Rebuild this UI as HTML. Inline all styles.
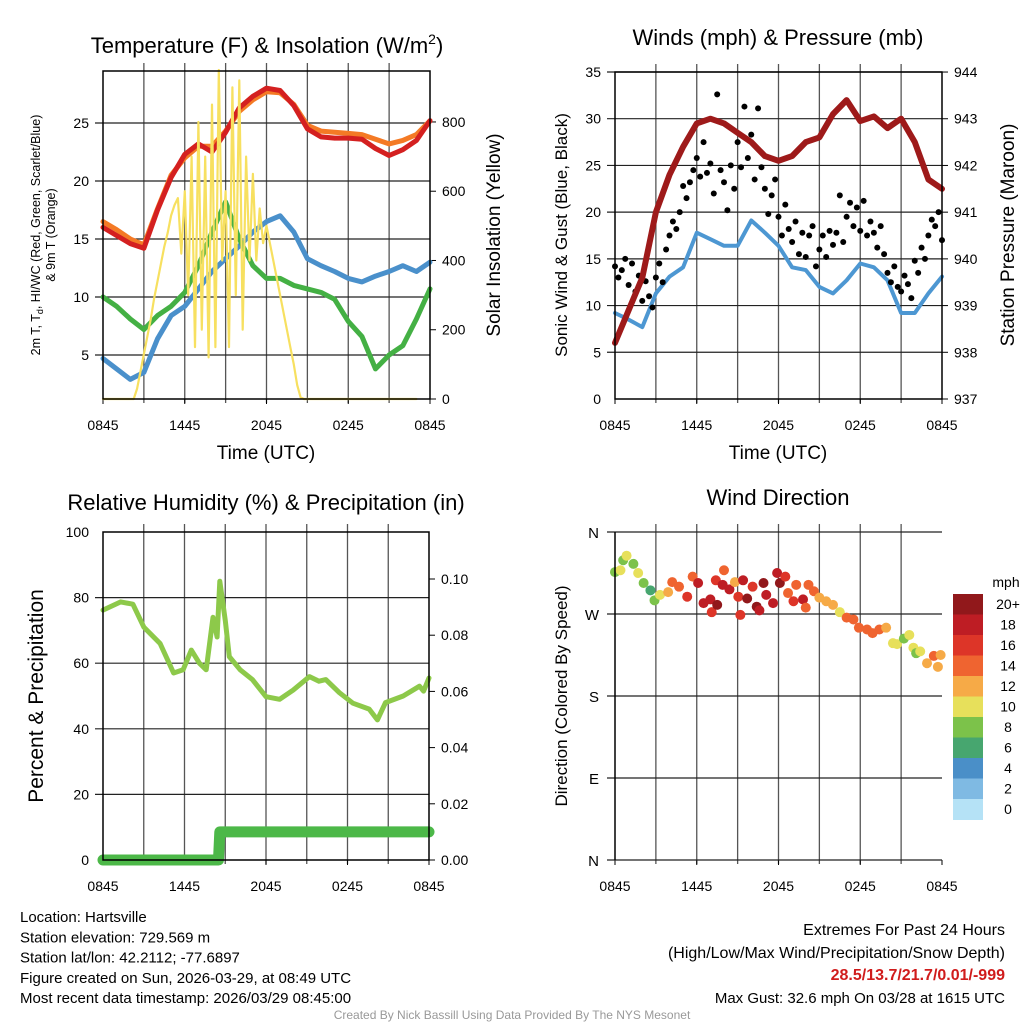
<!DOCTYPE html>
<html><head><meta charset="utf-8"><style>
html,body{margin:0;padding:0;background:#fff;}
svg{display:block;font-family:"Liberation Sans",Arial,sans-serif;}
</style></head><body>
<svg id="root" width="1024" height="1024" viewBox="0 0 1024 1024"></svg>
<script>
// ---------- DATA ----------
const xTickLabels = ["0845","1445","2045","0245","0845"];
const xTickHours = [0,6,12,18,24];
const hours = [0,1,2,3,4,5,6,7,8,9,10,11,12,13,14,15,16,17,18,19,20,21,22,23,24];
const temp2m = [16.0,15.3,14.6,14.2,17.5,20.3,22.3,23.2,22.5,24.2,26.3,27.3,28.0,27.8,26.5,24.5,23.8,23.7,23.7,23.6,22.8,22.2,22.7,23.5,25.2];
const temp9m = [16.5,15.8,15.0,14.5,17.6,20.5,22.0,23.0,23.0,24.3,26.0,27.0,27.7,27.6,26.6,24.8,24.3,24.2,24.1,24.0,23.6,23.2,23.5,24.0,25.2];
const dewpt = [4.7,3.8,2.9,3.5,6.4,8.4,9.2,10.7,12.2,13.3,14.4,15.6,16.5,17.0,15.6,13.3,12.7,12.2,11.6,11.3,11.8,12.2,12.7,12.2,13.0];
const hiwc = [10.0,9.2,8.1,7.2,8.4,9.2,10.4,12.7,15.6,18.2,15.0,12.7,11.6,11.6,11.0,10.7,10.4,9.8,7.9,6.6,3.8,5.0,5.8,8.1,10.7];
const solar = [0,0,0,0, 0,0,0,0, 0,0,30,80, 130,180,230,290, 340,390,440,480, 530,560,580,420, 600,300,700,150, 800,200,700,120,
 850,150,950,400, 600,150,900,300, 920,200,700,400, 650,400,550,450, 500,450,400,350, 300,250,200,150, 100,40,5,0,
 0,0,0,0, 0,0,0,0, 0,0,0,0, 0,0,0,0, 0,0,0,0, 0,0,0,0, 0,0,0,0, 0,0,0,0, 0];
const tempTicks = [5,10,15,20,25];
const solarTicks = [0,200,400,600,800];

const windSpeed = [9.2,8.5,7.7,11.3,13.1,14.1,17.8,17.1,16.4,16.4,19.1,17.8,16.4,14.1,13.8,12.0,11.3,12.7,14.5,14.1,12.7,9.2,9.2,11.3,13.1];
const pressure = [938.2,938.9,939.6,941.0,941.8,942.4,942.9,943.0,942.9,942.7,942.5,942.2,942.1,942.2,942.5,942.6,943.1,943.4,942.95,943.05,942.8,943.0,942.5,941.7,941.5];
const gusts = [14.2,13.0,13.8,15.0, 12.2,14.5,11.5,13.2, 10.5,12.6,11.0,9.8, 13.0,14.5,12.5,16.0, 17.5,19.0,18.2,20.0,
 22.8,21.5,23.2,24.5, 25.8,23.8,27.5,24.2, 25.2,22.0,32.6,24.5, 23.2,20.2,25.0,22.5, 27.5,24.8,31.3,25.8,
 28.3,23.5,31.1,24.8, 22.5,19.8,21.8,23.5, 19.5,17.5,20.8,18.2, 16.8,19.0,15.5,17.8, 15.2,17.5,18.5,14.2,
 16.0,17.5,15.2,18.0, 16.5,17.8,21.8,16.8, 19.5,21.0,18.5,20.5, 18.0,21.2,17.5,19.0, 17.8,16.2,18.5,15.5,
 13.5,12.5,14.2,12.0, 11.5,13.2,12.3,10.8, 14.8,13.5,16.2,15.0, 17.5,19.2,18.5,20.0, 17.0];
const windTicks = [0,5,10,15,20,25,30,35];
const presTicks = [937,938,939,940,941,942,943,944];

const rhHours = [0,1.3,2.2,3,4.2,5.2,5.9,6.5,7.1,7.6,8.1,8.4,8.6,9,9.3,10.1,11,12,13,14,15.2,15.9,16.4,17.4,18.4,19.6,20.2,20.8,22.1,23.3,23.6,24];
const rhValues = [76.2,78.7,78,71,66,57,58,64,60,58,74,68,85,73,62,58,55,49.8,49,51.8,55.9,54.5,55,51,47.8,46,42.7,48,50,53,51.5,55.5];
const precipHours = [0,8.5,8.6,24];
const precipValues = [0,0,0.01,0.01];
const rhTicks = [0,20,40,60,80,100];
const precipTicks = [0,0.02,0.04,0.06,0.08,0.10];

const dirHours = [0,0.4,0.6,0.85,1.35,1.7,2.1,2.6,2.9,3.3,3.9,4.2,4.7,5.3,5.7,6.1,6.5,7,7.1,7.4,7.5,7.9,8,8.4,8.8,9.05,9.2,9.4,9.7,10.1,10.4,10.6,10.9,11.1,11.6,11.9,12.1,12.5,12.7,13.1,13.3,13.8,14,14.2,14.6,15,15.5,16,16.5,17,17.5,17.9,18.5,18.9,19.4,19.9,20.4,20.7,21.2,21.6,21.9,22.1,22.4,22.9,23.4,23.7,23.9];
const dirValues = [316,318,329,334,325,315,304,296,285,291,294,305,300,289,311,304,282,286,272,307,280,302,318,297,305,289,269,307,287,300,278,274,304,291,282,315,304,311,293,284,302,286,277,302,295,288,284,280,272,266,264,255,253,249,253,255,238,237,243,247,233,227,229,216,224,212,225];
const dirSpeeds = [8,10,8,10,8,10,8,6,8,10,12,14,14,16,14,18,18,18,16,16,20,18,14,18,12,16,16,18,20,16,20,18,20,18,18,18,20,16,14,16,14,18,14,14,14,12,12,12,10,14,14,14,14,14,14,12,10,10,8,10,10,8,10,12,14,12,12];
const dirTickLabels = ["N","E","S","W","N"];
const dirTickValues = [0,90,180,270,360];
const speedLabels = ["0","2","4","6","8","10","12","14","16","18","20+"];
const speedColors = ["#b5e2f6","#7fbae3","#4a8fc8","#47a66f","#7cc24a","#e7e05b","#f6aa47","#ef6430","#dd3528","#be1d24","#91181b"];

// ---------- HELPERS ----------
const NS = "http://www.w3.org/2000/svg";
const root = document.getElementById('root');
function mk(tag, attrs, parent){ const e=document.createElementNS(NS,tag); for(const k in attrs) e.setAttribute(k,attrs[k]); (parent||root).appendChild(e); return e; }
function txt(s, x, y, size, anchor, extra){ const t=mk('text',Object.assign({x:x,y:y,'font-size':size,'text-anchor':anchor||'middle',fill:'#000'},extra||{})); t.textContent=s; return t; }

const P1={x0:103,x1:430,y0:71,y1:399};
const P2={x0:615,x1:942,y0:72,y1:399};
const P3={x0:103,x1:429,y0:532,y1:860};
const P4={x0:615,x1:942,y0:532,y1:860};
function xs(P,h){ return P.x0 + h*(P.x1-P.x0)/24; }
const y1L = v => 123 + (25-v)*11.6;
const y1R = w => 399 - w*0.3463;
const y2L = v => 399 - v*9.343;
const y2R = p => 399 - (p-937)*46.71;
const y3L = v => 860 - v*3.28;
const y3R = p => 860 - p*2810;
const y4 = d => 860 - d*0.9111;

function frame(P, name){
  const g = mk('g',{});
  
  
  for(let i=1;i<8;i++){ const x=xs(P,i*3); mk('line',{x1:x,x2:x,y1:P.y0-8,y2:P.y1+4,stroke:'#555','stroke-width':1.3},g); }
  xTickHours.forEach((h,i)=>{ const x=xs(P,h);
    mk('line',{x1:x,x2:x,y1:P.y1,y2:P.y1+5,stroke:'#000','stroke-width':1},g);
    const t=txt(xTickLabels[i],x,P.y1+31,14);
    
    
  });
  return g;
}
function border(P,name){
  const r=mk('rect',{x:P.x0,y:P.y0,width:P.x1-P.x0,height:P.y1-P.y0,fill:'none',stroke:'#000','stroke-width':1.5});
  
  
}
function hgrid(P,ys,name){
  ys.forEach(y=>{ const l=mk('line',{x1:P.x0-8,x2:P.x1,y1:y,y2:y,stroke:'#222','stroke-width':1.2});
    
     });
}
function leftLabels(P,vals,fy,fmt,name){
  vals.forEach(v=>{ const t=txt(fmt(v),P.x0-14,fy(v)+5,14,'end');
    
     });
}
function rightLabels(P,vals,fy,fmt,name){
  vals.forEach(v=>{ const y=fy(v);
    mk('line',{x1:P.x1,x2:P.x1+6,y1:y,y2:y,stroke:'#000'});
    const t=txt(fmt(v),P.x1+12,y+5,14,'start');
    
     });
}
function path(xsArr, ysArr, P, fy, color, w, name){
  let d=''; xsArr.forEach((h,i)=>{ d+=(i?'L':'M')+xs(P,h).toFixed(1)+','+fy(ysArr[i]).toFixed(1); });
  const p=mk('path',{d:d,fill:'none',stroke:color,'stroke-width':w,'stroke-linejoin':'round','stroke-linecap':'round'});
  
  
  return p;
}

// ---------- PANEL 1 ----------
frame(P1,'temp');
hgrid(P1,tempTicks.map(y1L),'temp');
leftLabels(P1,tempTicks,y1L,v=>String(v),'temp');
rightLabels(P1,solarTicks,y1R,v=>String(v),'solar');
path(hours,dewpt,P1,y1L,'#4a90cb',5,'dewpoint-line');
path(hours,hiwc,P1,y1L,'#44b044',5,'heat-index-windchill-line');
path(hours,temp9m,P1,y1L,'#f47a25',5,'temp-9m-line');
path(hours,temp2m,P1,y1L,'#d42020',5,'temp-2m-line');
const solarHours = solar.map((v,i)=>i*0.25);
path(solarHours,solar,P1,y1R,'#f7e060',2.2,'solar-insolation-line');
border(P1,'temp');
let t;
t=mk('text',{x:267,y:53,'font-size':22,'text-anchor':'middle',fill:'#000'});


const tA=mk('tspan',{},t); tA.textContent='Temperature (F) & Insolation (W/m';
const tB=mk('tspan',{'font-size':14,dy:-9},t); tB.textContent='2';
const tC=mk('tspan',{dy:9},t); tC.textContent=')';
t=txt('Time (UTC)',266,459,19);  
t=mk('text',{'font-size':12.5,'text-anchor':'middle',fill:'#000',transform:'translate(40,235) rotate(-90)'});


const ts=mk('tspan',{},t); ts.textContent='2m T, T';
const sub=mk('tspan',{'font-size':9,dy:3},t); sub.textContent='d';
const ts2=mk('tspan',{dy:-3},t); ts2.textContent=', HI/WC (Red, Green, Scarlet/Blue)';
t=txt('& 9m T (Orange)',0,0,12.5,'middle',{transform:'translate(55,235) rotate(-90)'});  
t=txt('Solar Insolation (Yellow)',0,0,19,'middle',{transform:'translate(500,235) rotate(-90)'});  

// ---------- PANEL 2 ----------
frame(P2,'wind');
hgrid(P2,windTicks.slice(1).map(y2L),'wind');
leftLabels(P2,windTicks,y2L,v=>String(v),'wind');
rightLabels(P2,presTicks,y2R,v=>String(v),'pressure');
path(hours,windSpeed,P2,y2L,'#4d97d2',4,'sonic-wind-line');
gusts.forEach((g,i)=>{ const c=mk('circle',{cx:xs(P2,i*0.25),cy:y2L(g),r:3,fill:'#000'});
  
   });
path(hours,pressure,P2,y2R,'#9e1a1a',6,'pressure-line');
border(P2,'wind');
t=txt('Winds (mph) & Pressure (mb)',778,45,22);  
t=txt('Time (UTC)',778,459,19);  
t=txt('Sonic Wind & Gust (Blue, Black)',0,0,17,'middle',{transform:'translate(567,235) rotate(-90)'});  
t=txt('Station Pressure (Maroon)',0,0,19,'middle',{transform:'translate(1014,235) rotate(-90)'});  

// ---------- PANEL 3 ----------
frame(P3,'rh');
hgrid(P3,rhTicks.slice(1,5).map(y3L),'rh');
leftLabels(P3,rhTicks,y3L,v=>String(v),'rh');
rightLabels(P3,precipTicks,y3R,v=>v.toFixed(2),'precip');
path(rhHours,rhValues,P3,y3L,'#8dc94a',5,'relative-humidity-line');
path(precipHours,precipValues,P3,y3R,'#4cb848',11,'precipitation-line');
border(P3,'rh');
t=txt('Relative Humidity (%) & Precipitation (in)',266,510,22);  
t=txt('Percent & Precipitation',0,0,21,'middle',{transform:'translate(43,696) rotate(-90)'});  

// ---------- PANEL 4 ----------
frame(P4,'dir');
hgrid(P4,dirTickValues.map(y4),'dir');
dirTickValues.forEach((v,i)=>{ const tt=txt(dirTickLabels[i],P4.x0-16,y4(v)+6,15,'end');
  
   });
dirHours.forEach((h,i)=>{ const idx=Math.min(10,Math.floor(dirSpeeds[i]/2));
  const c=mk('circle',{cx:xs(P4,h),cy:y4(dirValues[i]),r:5,fill:speedColors[idx]});
  
   });
mk('line',{x1:P4.x0,x2:P4.x0,y1:P4.y0,y2:P4.y1,stroke:'#000','stroke-width':1.5});
t=txt('Wind Direction',778,505,22);  
t=txt('Direction (Colored By Speed)',0,0,17,'middle',{transform:'translate(567,696) rotate(-90)'});  
// colorbar
const cbTop=594, cbH=20.5;
for(let k=0;k<11;k++){ const idx=10-k;
  const r=mk('rect',{x:953,y:cbTop+k*cbH,width:30,height:cbH+0.5,fill:speedColors[idx]});
  
  
  const l=txt(speedLabels[idx],1008,cbTop+k*cbH+15,14);
  
   }
t=txt('mph',1006,587,14);  

// ---------- FOOTER TEXT ----------
const info=["Location: Hartsville","Station elevation: 729.569 m","Station lat/lon: 42.2112; -77.6897","Figure created on Sun, 2026-03-29, at 08:49 UTC","Most recent data timestamp: 2026/03/29 08:45:00"];
info.forEach((s,i)=>{ const tt=txt(s,20,922+i*20.3,15,'start');
  
   });
t=txt('Extremes For Past 24 Hours',1005,935,16,'end');  
t=txt('(High/Low/Max Wind/Precipitation/Snow Depth)',1005,958,16,'end');  
t=txt('28.5/13.7/21.7/0.01/-999',1005,980,16,'end',{fill:'#d01c1c','font-weight':'bold'});  
t=txt('Max Gust: 32.6 mph On 03/28 at 1615 UTC',1005,1003,15,'end');  
t=txt('Created By Nick Bassill Using Data Provided By The NYS Mesonet',512,1019,12,'middle',{fill:'#999'});  
</script>
</body></html>
